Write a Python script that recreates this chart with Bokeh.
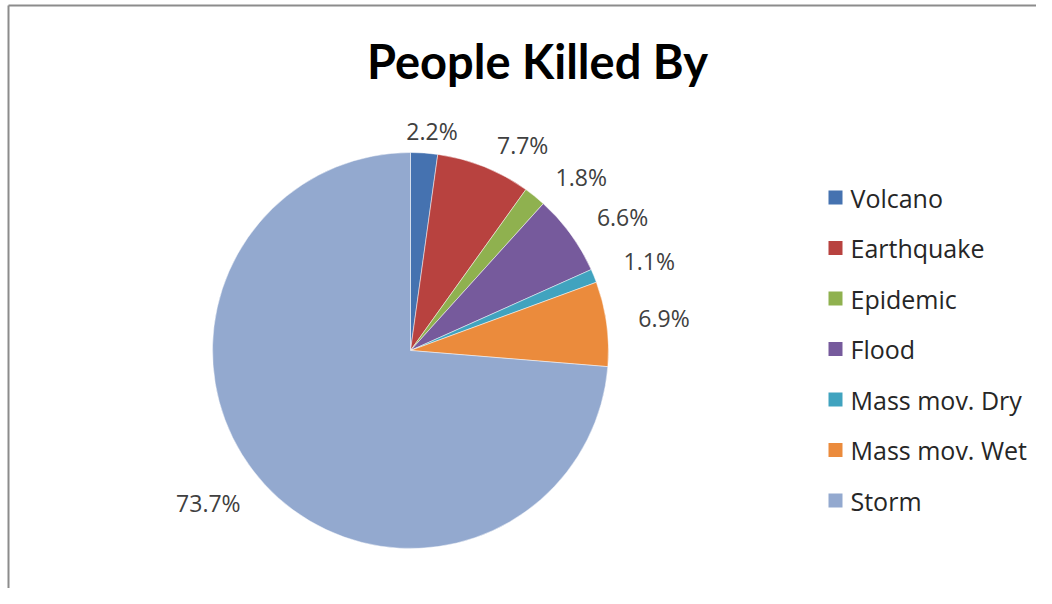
import numpy as np
from bokeh.plotting import figure
from bokeh.models import Range1d, ColumnDataSource
from bokeh.core.properties import value
from bokeh.embed import file_html
from bokeh.resources import INLINE

# ---- data ----
title_text = "People Killed By"
categories = ["Volcano", "Earthquake", "Epidemic", "Flood",
              "Mass mov. Dry", "Mass mov. Wet", "Storm"]
percentages = [2.2, 7.7, 1.8, 6.6, 1.1, 6.9, 73.7]
colors = ["#4572B0", "#B8423F", "#8FB14F", "#765A9C",
          "#40A3BF", "#EB8B3C", "#93A9CF"]

# ---- layout ----
W, H = 1036, 588
CX, CY, R = 410, 238, 198
LABEL_FS = 23
LEG_X, LEG_Y0, LEG_STEP = 835, 391, 50.5

p = figure(width=W, height=H, x_range=Range1d(0, W), y_range=Range1d(0, H),
           output_backend="svg", toolbar_location=None, min_border=0)
p.axis.visible = False
p.grid.visible = False
p.outline_line_color = None
p.background_fill_color = "white"
p.border_fill_color = "white"

vals = np.array(percentages, dtype=float)
frac = vals / vals.sum()
cum_end = np.cumsum(frac) * 2 * np.pi
cum_start = cum_end - frac * 2 * np.pi
src = ColumnDataSource(dict(cat=categories, color=colors,
                            start=np.pi / 2 - cum_start,
                            end=np.pi / 2 - cum_end))
p.wedge(x=CX, y=CY, radius=R, start_angle="start", end_angle="end",
        direction="clock", fill_color="color", line_color="white",
        line_width=0.8, line_alpha=0.6, source=src)

# ---- data labels (outside end) ----
mid = (cum_start + cum_end) / 2
s, c = np.sin(mid), np.cos(mid)
labels = [f"{v:.1f}%" for v in percentages]
wlab = np.array([0.6 * LABEL_FS * len(t) for t in labels])
hlab = 20
gx, gy = 30, 12
lx = CX + (R + gx) * s + wlab / 2 * np.clip(3 * s, -1, 1)
ly = CY + (R + gy) * c + hlab / 2 * np.clip(3 * c, -1, 1)
p.text(x=lx, y=ly, text=labels, text_font=value("Open Sans"),
       text_font_size=f"{LABEL_FS}px", text_color="#404040",
       text_align="center", text_baseline="middle")

# ---- title ----
p.text(x=[537], y=[528], text=[title_text], text_font=value("Lato"),
       text_font_size="47px", text_font_style="bold", text_color="#000000",
       text_align="center", text_baseline="alphabetic")

# ---- legend ----
ly_leg = LEG_Y0 - LEG_STEP * np.arange(len(categories))
p.rect(x=LEG_X, y=ly_leg, width=14, height=14, fill_color=colors, line_color=None)
p.text(x=LEG_X + 15, y=ly_leg, text=categories, text_font=value("Open Sans"),
       text_font_size="25px", text_color="#262626",
       text_align="left", text_baseline="middle")

# ---- chart border (top and left visible) ----
p.segment(x0=[8, 8], y0=[0, H - 5], x1=[8, W], y1=[H - 5, H - 5],
          line_color="#8c8c8c", line_width=2)

open("out.html", "w").write(file_html(p, INLINE))
